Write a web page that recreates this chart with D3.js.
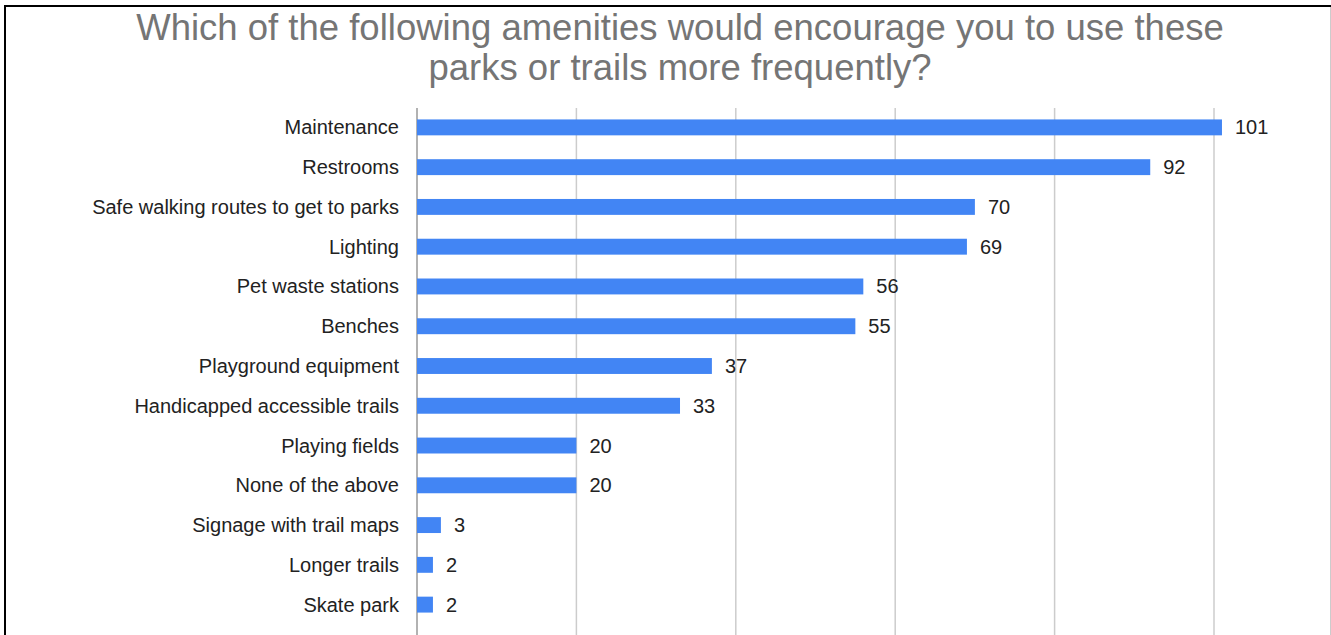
<!DOCTYPE html>
<html><head><meta charset="utf-8">
<script src="https://cdn.jsdelivr.net/npm/d3@7"></script>
<style>body{margin:0;background:#fff}svg{display:block}</style>
</head><body>
<script>
const categories = ["Maintenance","Restrooms","Safe walking routes to get to parks","Lighting","Pet waste stations","Benches","Playground equipment","Handicapped accessible trails","Playing fields","None of the above","Signage with trail maps","Longer trails","Skate park"];
const values = [101,92,70,69,56,55,37,33,20,20,3,2,2];
const ticks = [0,20,40,60,80,100];
const titleLines = ["Which of the following amenities would encourage you to use these","parks or trails more frequently?"];

const W=1331,H=635;
const svg=d3.select("body").append("svg").attr("width",W).attr("height",H);
svg.append("rect").attr("width",W).attr("height",H).attr("fill","#fff");

const x=d3.scaleLinear().domain([0,100]).range([417,1214]);
const y=d3.scaleBand().domain(categories).range([107.5,624.5]).paddingInner(0.6).paddingOuter(0.3);

// gridlines
svg.append("g").selectAll("line").data(ticks).join("line")
  .attr("x1",d=>x(d)).attr("x2",d=>x(d)).attr("y1",108).attr("y2",H)
  .attr("stroke",d=>d===0?"#999":"#ccc").attr("stroke-width",1.5);

svg.append("g").selectAll("rect").data(values).join("rect")
  .attr("x",x(0)).attr("y",(d,i)=>y(categories[i]))
  .attr("width",d=>x(d)-x(0)).attr("height",y.bandwidth())
  .attr("fill","#4285F4");

svg.append("g").selectAll("text").data(categories).join("text")
  .attr("x",399).attr("y",d=>y(d)+y.bandwidth()/2).attr("dy","0.35em")
  .attr("text-anchor","end").attr("font-family","Liberation Sans, Arial, sans-serif")
  .attr("font-size",20).attr("fill","#222").text(d=>d);

svg.append("g").selectAll("text").data(values).join("text")
  .attr("x",d=>x(d)+13).attr("y",(d,i)=>y(categories[i])+y.bandwidth()/2).attr("dy","0.35em")
  .attr("font-family","Liberation Sans, Arial, sans-serif")
  .attr("font-size",20).attr("fill","#222").text(d=>d);

svg.append("g").selectAll("text").data(titleLines).join("text")
  .attr("x",680).attr("y",(d,i)=>40+i*40).attr("text-anchor","middle")
  .attr("font-family","Liberation Sans, Arial, sans-serif")
  .attr("font-size",36.5).attr("fill","#757575").text(d=>d);

// border
svg.append("line").attr("x1",4).attr("x2",1331).attr("y1",6).attr("y2",6).attr("stroke","#000").attr("stroke-width",2);
svg.append("line").attr("x1",5).attr("x2",5).attr("y1",5).attr("y2",H).attr("stroke","#000").attr("stroke-width",2);
svg.append("line").attr("x1",1330.5).attr("x2",1330.5).attr("y1",7).attr("y2",H).attr("stroke","#ccc").attr("stroke-width",1);
</script>
</body></html>
